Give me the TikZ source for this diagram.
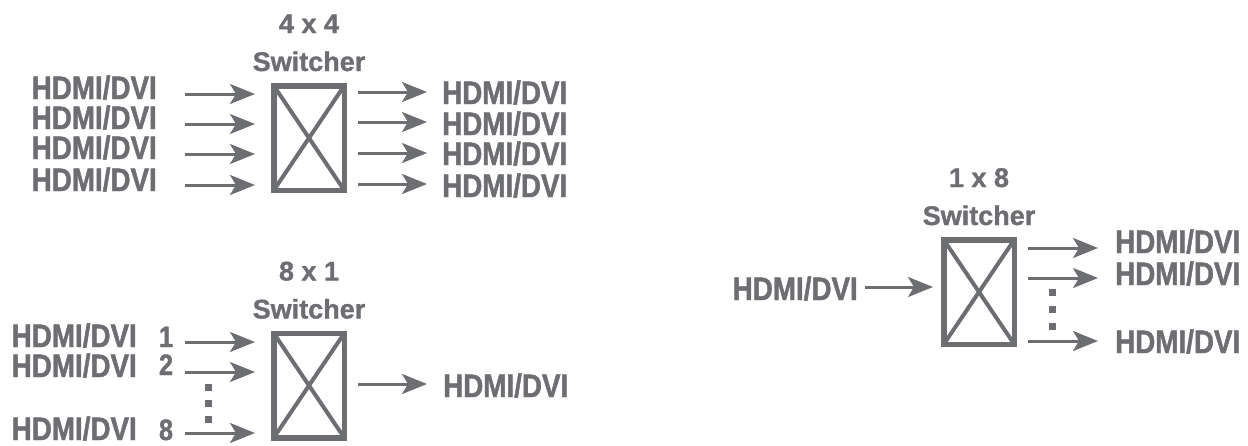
\documentclass[tikz,border=0pt]{standalone}
\usepackage{fontspec}
\setmainfont{Liberation Sans}
\newfontfamily\labfont[FakeStretch=0.855,FakeBold=1.3]{Liberation Sans Bold}
\newfontfamily\ttlfont[FakeBold=1.1]{Liberation Sans Bold}
\usetikzlibrary{positioning,arrows.meta}
\definecolor{swgray}{RGB}{109,110,114}
\tikzset{
  swbox/.style={draw=swgray, line width=5.5pt, outer sep=0pt, inner sep=0pt,
    minimum width=70.5pt, minimum height=104.5pt},
  swcross/.style={draw=swgray, line width=4pt},
  lab/.style={text=swgray, inner sep=0pt, text height=24pt, text depth=0pt,
    font=\labfont\fontsize{32.5}{32.5}\selectfont},
  num/.style={lab, text height=21pt,
    font=\labfont\fontsize{29.5}{29.5}\selectfont},
  ttl/.style={text=swgray, inner sep=0pt,
    font=\ttlfont\fontsize{27}{27}\selectfont},
  arr/.style={draw=swgray, line width=3pt,
    -{Stealth[length=25pt,width=20pt,inset=6pt]}},
  swdot/.style={fill=swgray}
}
\begin{document}
\begin{tikzpicture}[x=1pt,y=-1pt]
  \useasboundingbox (0,0) rectangle (1248,445);

  % 4 x 4
  \node[swbox] (sA) at (309,138) {};
  \draw[swcross] (sA.north west) -- (sA.south east)
                 (sA.south west) -- (sA.north east);
  \node[ttl, above=14.75pt of sA.north, anchor=base] (sA2) {Switcher};
  \node[ttl, above=38pt of sA2.base, anchor=base] (sA1) {4 x 4};
  \foreach \yy/\ay [count=\i] in {99/94,129/124,159/154,191/185}
   {
    \node[lab, anchor=base east] (iA\i) at (157,\yy) {HDMI/DVI};
    \coordinate (pA\i) at (185,\ay);
    \draw[arr, shorten >=18.75pt] (pA\i) -- (pA\i -| sA.west);
   }
  \foreach \yy/\ay [count=\i] in {104/92,135/122,165/153,197/184}
   {
    \node[lab, anchor=base west] (oA\i) at (442,\yy) {HDMI/DVI};
    \coordinate (qA\i) at (427,\ay);
    \draw[arr, shorten <=13.75pt] (qA\i -| sA.east) -- (qA\i);
   }

  % 8 x 1
  \node[swbox] (sB) at (309,385.5) {};
  \draw[swcross] (sB.north west) -- (sB.south east)
                 (sB.south west) -- (sB.north east);
  \node[ttl, above=14.75pt of sB.north, anchor=base] (sB2) {Switcher};
  \node[ttl, above=38pt of sB2.base, anchor=base] (sB1) {8 x 1};
  \foreach \yy/\ny/\ay/\nn [count=\i] in {347/347/342/1,377/375/372/2,440/440/433/8}
   {
    \node[lab, anchor=base east] (iB\i) at (137,\yy) {HDMI/DVI};
    \node[num, anchor=base] (nB\i) at (166,\ny) {\nn};
    \coordinate (pB\i) at (185,\ay);
    \draw[arr, shorten >=18.75pt] (pB\i) -- (pB\i -| sB.west);
   }
  \foreach \dy in {387,403,419}
    \fill[swdot] (204.5,\dy-3.5) rectangle ++(7,7);
  \coordinate (qB1) at (427,384);
  \draw[arr, shorten <=13.75pt] (qB1 -| sB.east) -- (qB1);
  \node[lab, anchor=base west] (oB1) at (443,397) {HDMI/DVI};

  % 1 x 8
  \node[swbox] (sC) at (979,292) {};
  \draw[swcross] (sC.north west) -- (sC.south east)
                 (sC.south west) -- (sC.north east);
  \node[ttl, above=14.75pt of sC.north, anchor=base] (sC2) {Switcher};
  \node[ttl, above=38pt of sC2.base, anchor=base] (sC1) {1 x 8};
  \node[lab, anchor=base east] (iC1) at (858,300) {HDMI/DVI};
  \coordinate (pC1) at (865,287);
  \draw[arr, shorten >=10.75pt] (pC1) -- (pC1 -| sC.west);
  \foreach \yy/\ay [count=\i] in {253/248,285/278,353/341}
   {
    \node[lab, anchor=base west] (oC\i) at (1115,\yy) {HDMI/DVI};
    \coordinate (qC\i) at (1098,\ay);
    \draw[arr, shorten <=13.75pt] (qC\i -| sC.east) -- (qC\i);
   }
  \foreach \dy in {292,309,326}
    \fill[swdot] (1048.5,\dy-3.5) rectangle ++(7,7);
\end{tikzpicture}
\end{document}
